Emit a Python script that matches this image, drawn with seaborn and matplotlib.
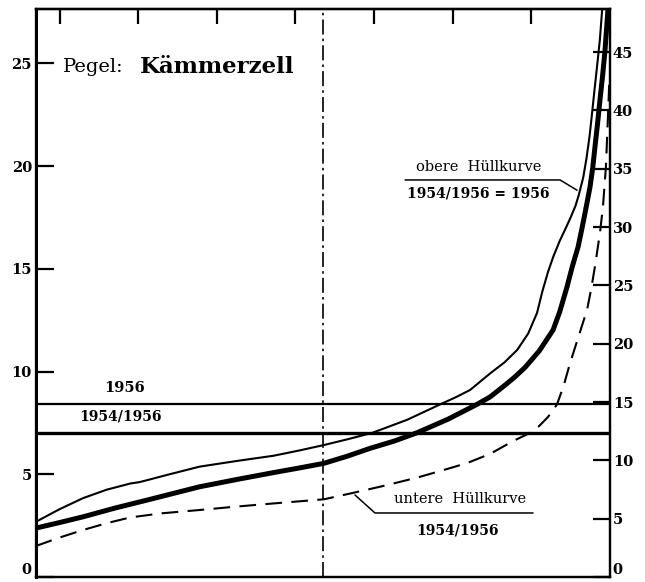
import matplotlib
matplotlib.use("Agg")
import matplotlib.pyplot as plt
import pandas as pd
import seaborn as sns

# Dauerlinien der Wasserstände am Pegel Kämmerzell (Tage im Jahr -> Wert)
upper_days = [0, 15, 30, 45, 60, 66, 85, 104, 128, 151, 167, 183, 198, 214, 236, 257, 267,
              276, 289, 298, 306, 313, 318.6, 322, 325.6, 329, 333, 337, 340, 343, 345, 348,
              350, 352, 353.5, 355, 356.7, 358.5, 360]
upper_vals = [2.69, 3.30, 3.84, 4.25, 4.55, 4.62, 5.00, 5.37, 5.65, 5.90, 6.15, 6.42, 6.70,
              7.02, 7.65, 8.40, 8.75, 9.10, 9.92, 10.45, 11.05, 11.85, 12.85, 13.9, 14.85,
              15.6, 16.35, 17.0, 17.5, 18.05, 18.55, 19.45, 20.35, 21.45, 22.5, 23.6, 24.8,
              26.1, 27.6]

mean_days = [0, 15, 30, 50, 71, 88, 104, 128, 151, 167, 183, 198, 212.4, 228, 242.3, 262,
             280.4, 288.7, 297, 304, 311, 320, 328.8, 333, 337.6, 341, 344.7, 347, 349.1,
             352.3, 354, 355.4, 357, 358.6, 360.3, 361.8, 363.7]
mean_vals = [2.38, 2.65, 2.93, 3.35, 3.75, 4.08, 4.39, 4.75, 5.08, 5.30, 5.53, 5.88, 6.26,
             6.62, 7.02, 7.68, 8.40, 8.76, 9.26, 9.70, 10.2, 11.0, 12.02, 12.9, 14.1, 15.1,
             16.06, 16.9, 17.7, 18.98, 19.9, 20.9, 22.0, 23.2, 24.4, 25.6, 27.6]

lower_days = [0, 15, 30, 45, 60, 80, 104, 128, 151, 167, 183, 202, 222, 243, 258, 274, 289,
              303, 314.3, 320, 325.6, 331.3, 335.5, 339.6, 345, 350.4, 353, 355.4, 358.6,
              360.5, 362.4, 363.7, 364.5]
lower_vals = [1.51, 1.92, 2.29, 2.62, 2.90, 3.10, 3.26, 3.43, 3.58, 3.68, 3.78, 4.10, 4.45,
              4.85, 5.18, 5.54, 6.00, 6.60, 7.02, 7.35, 7.79, 8.40, 9.30, 10.41, 11.7, 13.0,
              14.0, 15.1, 16.74, 18.0, 19.95, 22.4, 24.0]

# Mittelwerte als waagerechte Linien, Median-Tag als senkrechte Linie
level_1956 = 8.40
level_1954_56 = 7.02
median_day = 182.5

left_ticks = [0, 5, 10, 15, 20, 25]
right_ticks = [0, 5, 10, 15, 20, 25, 30, 35, 40, 45]
bottom_ticks = [50, 100, 150, 200, 250, 300, 350]
top_ticks = [15, 65, 115, 165, 215, 265, 315]

sns.set_theme(style="white")
plt.rcParams["font.family"] = ["DejaVu Serif"]
plt.rcParams.update({"text.color": "black", "axes.labelcolor": "black",
                     "xtick.color": "black", "ytick.color": "black"})

df = pd.concat([
    pd.DataFrame({"tag": upper_days, "wert": upper_vals, "kurve": "obere"}),
    pd.DataFrame({"tag": mean_days, "wert": mean_vals, "kurve": "mittel"}),
    pd.DataFrame({"tag": lower_days, "wert": lower_vals, "kurve": "untere"}),
])

fig = plt.figure(figsize=(6.45, 5.82), dpi=100)
ax = fig.add_axes([36 / 645, 5 / 582, 574 / 645, 568 / 582])

sns.lineplot(data=df[df.kurve == "obere"], x="tag", y="wert", ax=ax,
             color="black", lw=1.5, sort=False, estimator=None)
sns.lineplot(data=df[df.kurve == "mittel"], x="tag", y="wert", ax=ax,
             color="black", lw=3.6, sort=False, estimator=None)
sns.lineplot(data=df[df.kurve == "untere"], x="tag", y="wert", ax=ax,
             color="black", lw=1.5, sort=False, estimator=None,
             linestyle=(0, (8, 4.5)))

ax.axhline(level_1956, color="black", lw=1.6)
ax.axhline(level_1954_56, color="black", lw=2.4)
ax.axvline(median_day, color="black", lw=1.2, linestyle=(0, (9, 2.5, 1.5, 2.5)))

ax.set_xlim(0, 365)
ax.set_ylim(0, 27.64)
ax.set_xlabel("")
ax.set_ylabel("")
ax.set_xticks(bottom_ticks)
ax.set_xticklabels([])
ax.set_yticks(left_ticks)
ax.set_yticklabels([str(t) for t in left_ticks], fontweight="bold", fontsize=10.5)
ax.tick_params(axis="y", direction="in", length=13, width=1.6, pad=3, colors="black")
ax.tick_params(axis="x", direction="in", length=11, width=1.6, colors="black")
ax.get_yticklabels()[0].set_va("bottom")

top = ax.secondary_xaxis("top")
top.set_xticks(top_ticks)
top.set_xticklabels([])
top.tick_params(direction="in", length=11, width=1.6, colors="black")

ax2 = ax.twinx()
ax2.set_ylim(0, 48.7)
ax2.set_yticks(right_ticks)
ax2.set_yticklabels([str(t) for t in right_ticks], fontweight="bold", fontsize=10.5)
ax2.tick_params(axis="y", direction="in", length=12, width=1.6, pad=2, colors="black")
ax2.get_yticklabels()[0].set_va("bottom")
ax2.grid(False)
ax.grid(False)

for a in (ax, ax2):
    for s in a.spines.values():
        s.set_color("black")
        s.set_linewidth(1.6)
ax.spines["left"].set_linewidth(2.2)
top.spines["top"].set_linewidth(1.6)
top.spines["top"].set_color("black")

tr = ax.transAxes
ax.text(0.047, 0.898, "Pegel:", transform=tr, fontsize=14, va="center", ha="left")
ax.text(0.181, 0.898, "Kämmerzell", transform=tr, fontsize=16.5, va="center", ha="left",
        fontweight="bold")

ax.text(0.155, 0.333, "1956", transform=tr, fontsize=10.5, fontweight="bold", ha="center", va="center")
ax.text(0.148, 0.282, "1954/1956", transform=tr, fontsize=10, fontweight="bold", ha="center", va="center")

ax.text(0.772, 0.722, "obere  Hüllkurve", transform=tr, fontsize=10.5, ha="center", va="center")
ax.plot([0.643, 0.913, 0.9425], [0.699, 0.699, 0.681], transform=tr, color="black", lw=1.1)
ax.text(0.770, 0.676, "1954/1956 = 1956", transform=tr, fontsize=10, fontweight="bold",
        ha="center", va="center")

ax.text(0.739, 0.137, "untere  Hüllkurve", transform=tr, fontsize=10.5, ha="center", va="center")
ax.plot([0.5557, 0.5906, 0.866], [0.1444, 0.1127, 0.1127], transform=tr, color="black", lw=1.1)
ax.text(0.735, 0.0827, "1954/1956", transform=tr, fontsize=10, fontweight="bold",
        ha="center", va="center")

fig.savefig("out.png", dpi=100)
